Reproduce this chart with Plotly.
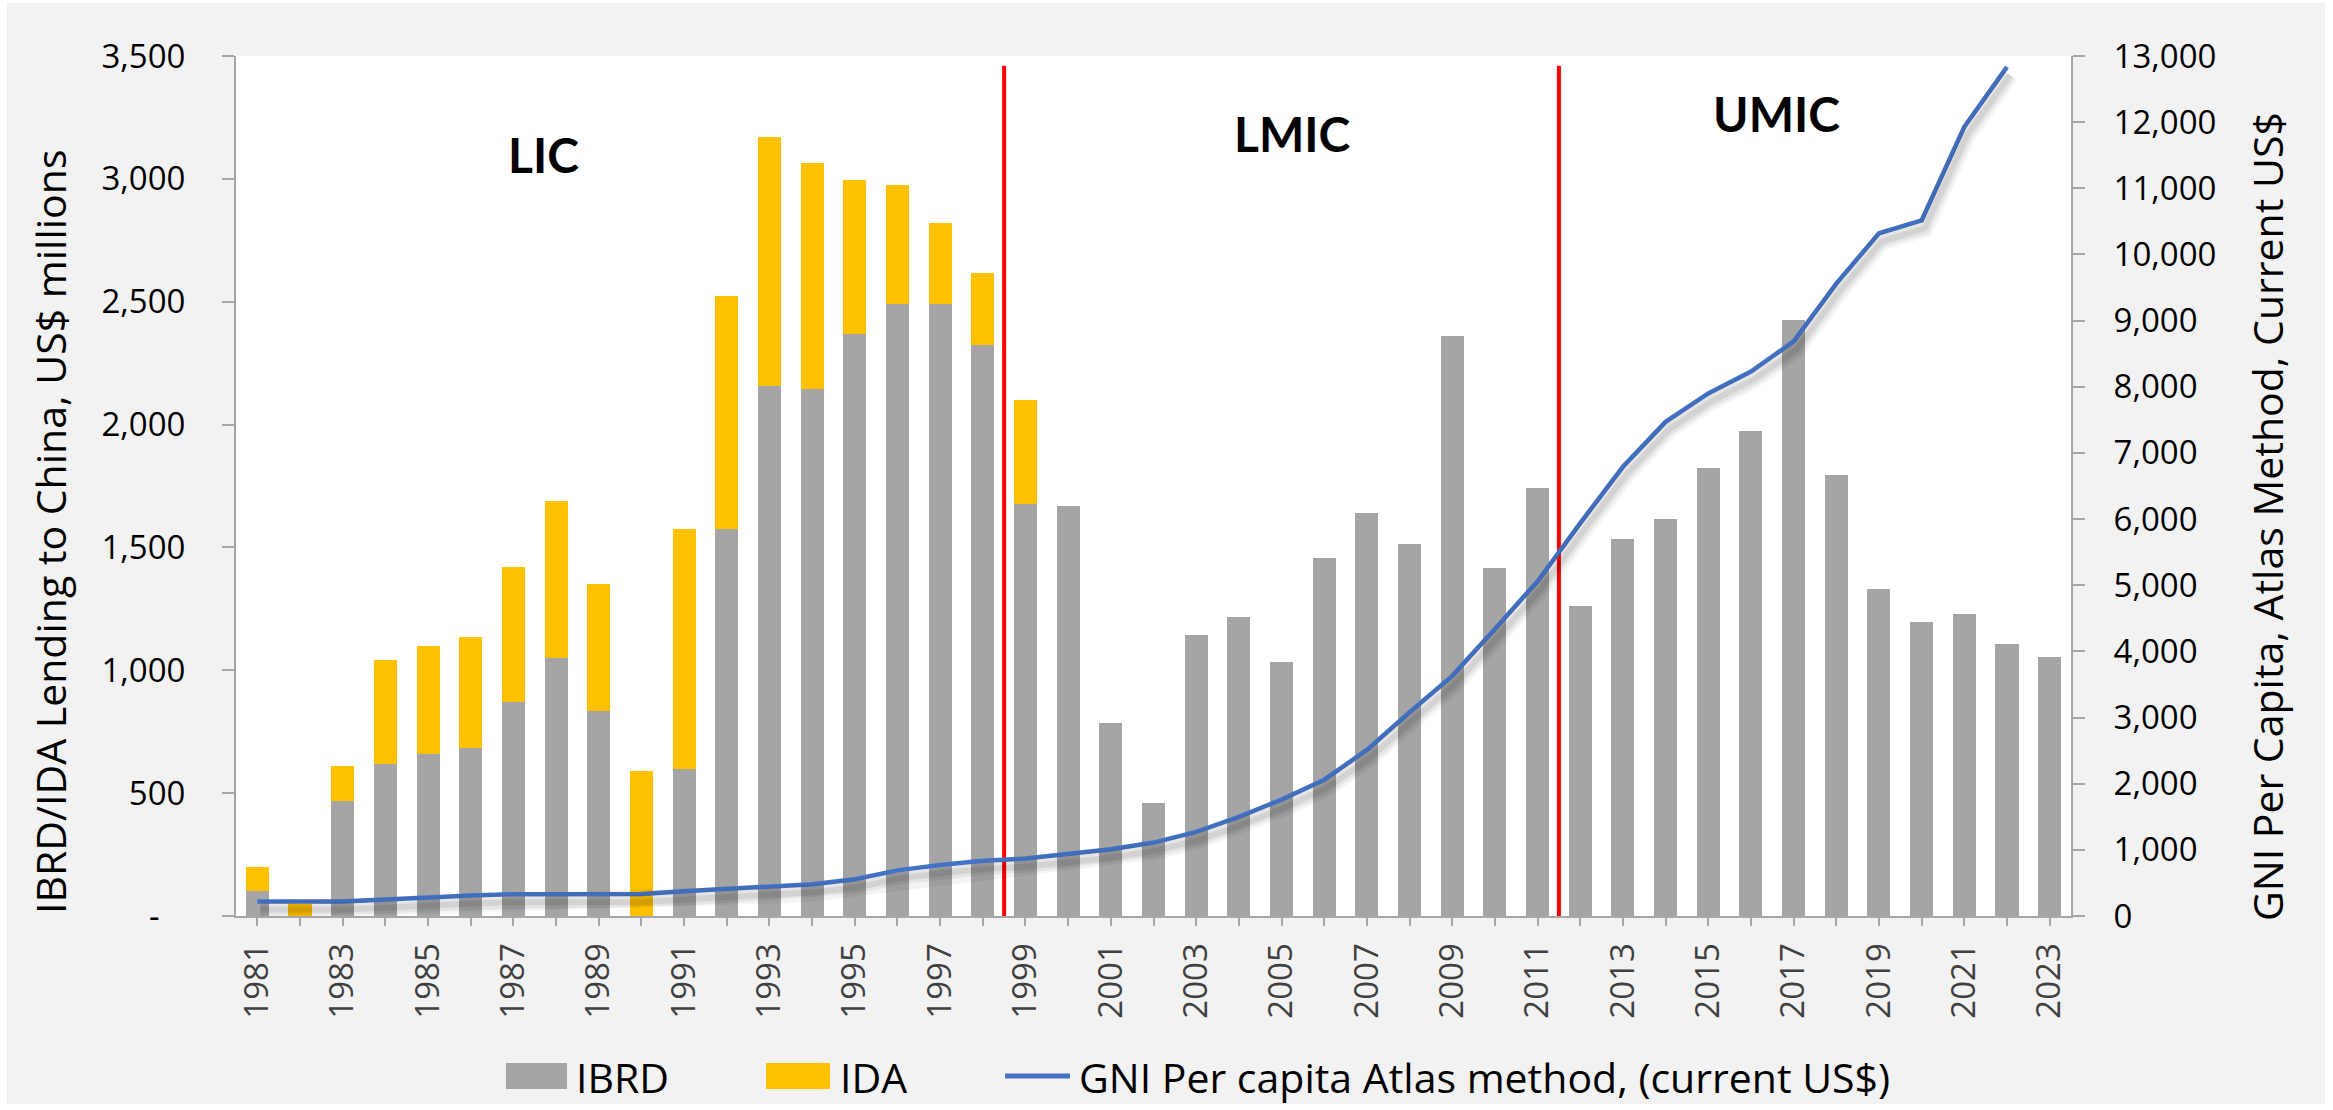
import plotly.graph_objects as go

# ---------------- data ----------------
years = list(range(1981, 2024))
ibrd = [100, 0, 470, 620, 660, 685, 870, 1050, 835, 0,
        600, 1575, 2155, 2145, 2370, 2490, 2490, 2325, 1675, 1670,
        785, 460, 1145, 1215, 1035, 1455, 1640, 1515, 2360, 1415,
        1740, 1260, 1535, 1615, 1825, 1975, 2425, 1795, 1330, 1195,
        1230, 1105, 1055]
ida = [100, 50, 140, 420, 440, 450, 550, 640, 515, 590,
       975, 950, 1015, 920, 625, 485, 330, 290, 425, 0,
       0, 0, 0, 0, 0, 0, 0, 0, 0, 0,
       0, 0, 0, 0, 0, 0, 0, 0, 0, 0,
       0, 0, 0]
gni = [218, 218, 218, 250, 285, 310, 330, 332, 332, 332,
       375, 410, 445, 480, 555, 690, 770, 835, 868, 935,
       1010, 1110, 1272, 1500, 1760, 2060, 2510, 3080, 3630, 4340,
       5060, 5940, 6790, 7470, 7900, 8230, 8685, 9560, 10320, 10515,
       11930, 12835, None]

left_ticks = [0, 500, 1000, 1500, 2000, 2500, 3000, 3500]
left_ticktext = ["-\u00a0\u00a0\u00a0", "500", "1,000", "1,500", "2,000", "2,500", "3,000", "3,500"]
right_ticks = list(range(0, 14000, 1000))
x_ticks = list(range(1981, 2024, 2))

class_boundaries = [1998.5, 2011.5]
class_labels = ["LIC", "LMIC", "UMIC"]
class_label_x = [1987.7, 2005.25, 2016.6]
class_label_y = [3100, 3185, 3265]

# ---------------- layout constants ----------------
W, H = 2333, 1110
L, R, T, B = 236, 2071, 56, 916
PW, PH = R - L, B - T
XR = [1980.5, 2023.5]
Y1R = [0, 3500]
Y2R = [0, 13000]
RED_TOP = 3460


def px(x):
    return (x - L) / PW


def py(y):
    return (B - y) / PH


FONT = "Open Sans"
GRAY = "#A5A5A5"
GOLD = "#FFC000"
BLUE = "#4472C4"
AXC = "#A6A6A6"

fig = go.Figure()

fig.add_trace(go.Bar(x=years, y=ibrd, name="IBRD", marker=dict(color=GRAY, line=dict(width=0)),
                     showlegend=False))
fig.add_trace(go.Bar(x=years, y=ida, name="IDA", marker=dict(color=GOLD, line=dict(width=0)),
                     showlegend=False))

for b in class_boundaries:
    fig.add_trace(go.Scatter(x=[b, b], y=[0, RED_TOP], mode="lines",
                             line=dict(color="#FF0000", width=4),
                             hoverinfo="skip", showlegend=False))

# soft shadow under the GNI line (offset axes)
for w, a in [(18, 0.045), (12, 0.06), (6, 0.08)]:
    fig.add_trace(go.Scatter(x=years, y=gni, mode="lines", xaxis="x2", yaxis="y3",
                             line=dict(color=f"rgba(0,0,0,{a})", width=w),
                             hoverinfo="skip", showlegend=False, connectgaps=False))

fig.add_trace(go.Scatter(x=years, y=gni, mode="lines", yaxis="y2",
                         name="GNI Per capita Atlas method, (current US$)",
                         line=dict(color=BLUE, width=4.5), showlegend=False))

sx = 3 * (XR[1] - XR[0]) / PW
sy = 8 * (Y2R[1] - Y2R[0]) / PH

annotations = []
for t, xv, yv in zip(class_labels, class_label_x, class_label_y):
    annotations.append(dict(text=t, x=xv, y=yv, xref="x", yref="y", showarrow=False,
                            xanchor="center", yanchor="middle",
                            font=dict(family="Lato", size=48, color="#000000", weight="bold")))

annotations.append(dict(text="IBRD/IDA Lending to China, US$ millions", x=px(50), y=py(532),
                        xref="paper", yref="paper", showarrow=False, textangle=-90,
                        xanchor="center", yanchor="middle",
                        font=dict(family=FONT, size=41, color="#000000")))
annotations.append(dict(text="GNI Per Capita, Atlas Method, Current US$", x=px(2267), y=py(517),
                        xref="paper", yref="paper", showarrow=False, textangle=-90,
                        xanchor="center", yanchor="middle",
                        font=dict(family=FONT, size=41, color="#000000")))

# custom legend
shapes = [
    dict(type="rect", xref="paper", yref="paper", x0=px(7), x1=px(2325), y0=py(1104), y1=py(3),
         fillcolor="#F2F2F2", line=dict(width=0), layer="below"),
    dict(type="rect", xref="paper", yref="paper", x0=0, x1=1, y0=0, y1=1,
         fillcolor="#FFFFFF", line=dict(width=0), layer="below"),
    dict(type="rect", xref="paper", yref="paper", x0=px(506), x1=px(567), y0=py(1089), y1=py(1063),
         fillcolor=GRAY, line=dict(width=0)),
    dict(type="rect", xref="paper", yref="paper", x0=px(766), x1=px(830), y0=py(1089), y1=py(1063),
         fillcolor=GOLD, line=dict(width=0)),
    dict(type="line", xref="paper", yref="paper", x0=px(1005), x1=px(1070), y0=py(1076), y1=py(1076),
         line=dict(color=BLUE, width=5)),
]
for t, xl in [("IBRD", 574), ("IDA", 838), ("GNI Per capita Atlas method, (current US$)", 1077)]:
    annotations.append(dict(text=t, x=px(xl), y=py(1077), xref="paper", yref="paper",
                            showarrow=False, xanchor="left", yanchor="middle",
                            font=dict(family=FONT, size=41, color="#000000")))

fig.update_layout(
    width=W, height=H,
    margin=dict(l=L, r=W - R, t=T, b=H - B, pad=0),
    paper_bgcolor="#FFFFFF", plot_bgcolor="#FFFFFF",
    barmode="stack", bargap=0.46,
    showlegend=False,
    font=dict(family=FONT),
    xaxis=dict(range=XR, tickmode="array", tickvals=x_ticks, ticktext=[str(v) for v in x_ticks],
               tickangle=-90, ticks="outside", ticklen=8, tickwidth=2, tickcolor=AXC,
               minor=dict(dtick=1, tick0=1981, ticks="outside", ticklen=8, tickwidth=2, tickcolor=AXC),
               showline=True, linecolor=AXC, linewidth=2, showgrid=False, zeroline=False,
               tickfont=dict(family=FONT, size=33, color="#404040"), ticklabelstandoff=4),
    xaxis2=dict(range=[XR[0] - sx, XR[1] - sx], overlaying="x", visible=False),
    yaxis=dict(range=Y1R, tickmode="array", tickvals=left_ticks, ticktext=left_ticktext,
               ticks="outside", ticklen=12, tickwidth=2, tickcolor=AXC,
               showline=True, linecolor=AXC, linewidth=2, showgrid=False, zeroline=False,
               tickfont=dict(family=FONT, size=33, color="#000000"), ticklabelstandoff=30),
    yaxis2=dict(range=Y2R, overlaying="y", side="right", tickmode="array", tickvals=right_ticks,
                tickformat=",d", ticks="outside", ticklen=12, tickwidth=2, tickcolor=AXC,
                showline=True, linecolor=AXC, linewidth=2, showgrid=False, zeroline=False,
                tickfont=dict(family=FONT, size=33, color="#000000"), ticklabelstandoff=22),
    yaxis3=dict(range=[Y2R[0] + sy, Y2R[1] + sy], overlaying="y", visible=False),
    shapes=shapes,
    annotations=annotations,
)

fig.write_html("out.html", config={"displayModeBar": False},
               post_script="document.body.style.margin='0px';")
